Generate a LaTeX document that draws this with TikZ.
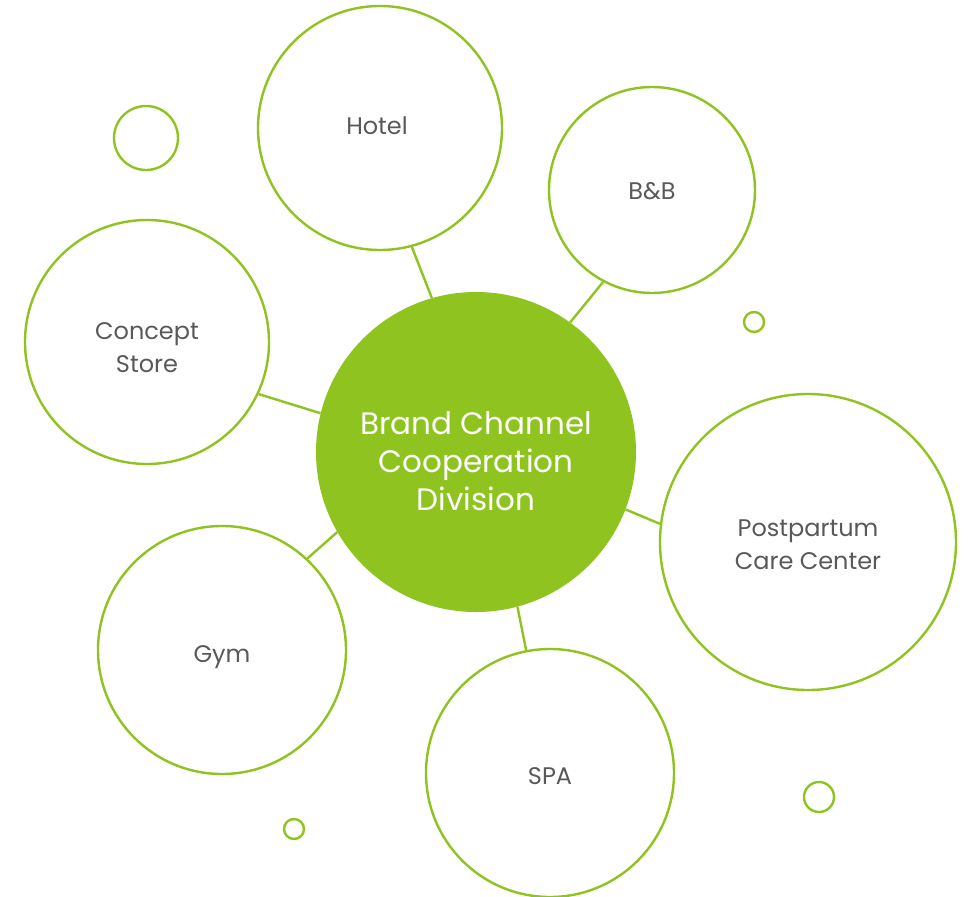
\documentclass[tikz,border=0pt]{standalone}
\usepackage{fontspec}
\setmainfont{Poppins}
\definecolor{lime}{HTML}{8FC31F}
\definecolor{txt}{HTML}{595959}
\begin{document}
\begin{tikzpicture}[x=1pt,y=-1pt,
  bub/.style={circle,draw=lime,line width=2.4pt,fill=white,inner sep=0pt,minimum size=#1},
  btext/.style={align=center,text=txt,font=\fontsize{24}{33}\selectfont,inner sep=0pt},
  hub/.style={circle,fill=lime,inner sep=0pt,minimum size=#1},
  htext/.style={align=center,text=white,font=\fontsize{31}{38}\selectfont,inner sep=0pt},
  dot/.style={circle,draw=lime,line width=2.4pt,inner sep=0pt,minimum size=#1},
  link/.style={draw=lime,line width=2.4pt}]
\useasboundingbox (0,0) rectangle (972,897);
\node[hub=320pt,label={[htext,yshift=-9pt]center:Brand Channel\\Cooperation\\Division}] (c) at (476,452) {};
\node[bub=244pt,label={[btext,yshift=2pt,xshift=-3pt]center:Hotel}] (hotel) at (380,128) {};
\node[bub=206pt,label={[btext,yshift=-1pt]center:B\&B}] (bb) at (652,190) {};
\node[bub=244pt,label={[btext,yshift=-6pt]center:Concept\\Store}] (cs) at (147,342) {};
\node[bub=296pt,label={[btext,yshift=-3pt]center:Postpartum\\Care Center}] (pp) at (808,542) {};
\node[bub=248pt,label={[btext,yshift=-7pt]center:Gym}] (gym) at (222,650) {};
\node[bub=248pt,label={[btext,yshift=-3pt]center:SPA}] (spa) at (550,773) {};
\node[dot=64pt] (d1) at (146,138) {};
\node[dot=20pt] (d2) at (754,322) {};
\node[dot=30pt] (d3) at (819,797) {};
\node[dot=20pt] (d4) at (294,829) {};
\draw[link] (c.106) -- (hotel.285);
\draw[link] (c.54) -- (bb.242);
\draw[link] (c.166) -- (cs.335);
\draw[link] (c.339) -- (pp.173);
\draw[link] (c.210) -- (gym.47);
\draw[link] (c.285) -- (spa.101);
\end{tikzpicture}
\end{document}
